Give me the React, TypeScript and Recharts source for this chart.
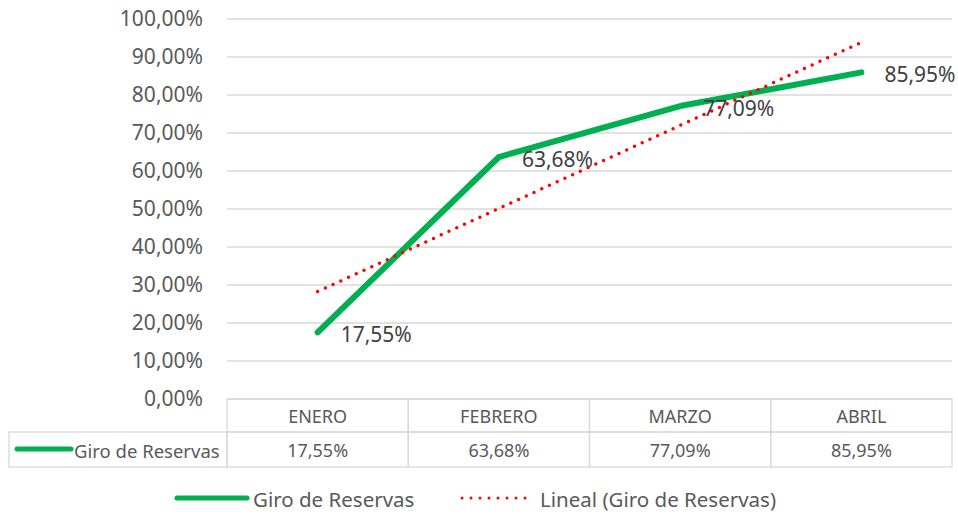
import React from 'react';
import { ComposedChart, Line, XAxis, YAxis, CartesianGrid, LabelList } from 'recharts';

const categories = ['ENERO', 'FEBRERO', 'MARZO', 'ABRIL'];
const giroReservas = [17.55, 63.68, 77.09, 85.95];
// linear trend
const lineal = [28.28, 50.14, 72.0, 93.86];
const yTicks = [0, 10, 20, 30, 40, 50, 60, 70, 80, 90, 100];

const W = 958;
const H = 514;
const PLOT_LEFT = 227;
const PLOT_RIGHT = 952;
const PLOT_BOTTOM = 399;
const ROW_SPLIT = 432;
const TABLE_BOTTOM = 467;
const FONT = '"Noto Sans", sans-serif';
const GREEN = '#00B050';
const RED = '#FF0000';
const GRID = '#D9D9D9';
const TEXT = '#595959';

const data = categories.map((c, i) => ({ name: c, giro: giroReservas[i], lineal: lineal[i] }));

const fmt = (v: number) => v.toFixed(2).replace('.', ',') + '%';

const TableTick = (props: any) => {
  const { x, payload, index } = props;
  const cw = (PLOT_RIGHT - PLOT_LEFT) / categories.length;
  const left = x - cw / 2;
  const value = giroReservas[index];
  return (
    <g>
      <rect x={left} y={PLOT_BOTTOM} width={cw} height={ROW_SPLIT - PLOT_BOTTOM} fill="none" stroke={GRID} strokeWidth={1.3} />
      <rect x={left} y={ROW_SPLIT} width={cw} height={TABLE_BOTTOM - ROW_SPLIT} fill="none" stroke={GRID} strokeWidth={1.3} />
      <text x={x} y={416} textAnchor="middle" dominantBaseline="central" fill={TEXT} fontSize={18} fontFamily={FONT}>
        {payload.value}
      </text>
      <text x={x} y={450} textAnchor="middle" dominantBaseline="central" fill={TEXT} fontSize={18} fontFamily={FONT}>
        {fmt(value)}
      </text>
      {index === 0 && (
        <g>
          <rect x={9} y={ROW_SPLIT} width={PLOT_LEFT - 9} height={TABLE_BOTTOM - ROW_SPLIT} fill="none" stroke={GRID} strokeWidth={1.3} />
          <line x1={17} y1={449} x2={71} y2={449} stroke={GREEN} strokeWidth={5} strokeLinecap="round" />
          <text x={74} y={450} dominantBaseline="central" fill={TEXT} fontSize={18.5} fontFamily={FONT}>
            Giro de Reservas
          </text>
        </g>
      )}
    </g>
  );
};

const PointLabel = (props: any) => {
  const { x, y, value } = props;
  return (
    <text x={x + 23} y={y + 2} dominantBaseline="central" fill="#404040" fontSize={21} fontFamily={FONT}>
      {fmt(value)}
    </text>
  );
};

export default function App() {
  return (
    <div style={{ position: 'absolute', left: 0, top: 0, width: W, height: H, background: '#fff' }}>
      <ComposedChart width={W} height={H} data={data} margin={{ top: 19, right: W - PLOT_RIGHT, left: 0, bottom: H - TABLE_BOTTOM }}>
        <CartesianGrid vertical={false} stroke={GRID} strokeWidth={1.3} />
        <XAxis
          dataKey="name"
          scale="band"
          height={TABLE_BOTTOM - PLOT_BOTTOM}
          axisLine={false}
          tickLine={false}
          tick={<TableTick />}
          interval={0}
        />
        <YAxis
          domain={[0, 100]}
          ticks={yTicks}
          width={PLOT_LEFT}
          axisLine={false}
          tickLine={false}
          tickSize={0}
          tickMargin={24}
          tickFormatter={fmt}
          tick={{ fill: TEXT, fontSize: 21, fontFamily: FONT }}
        />
        <Line
          dataKey="giro"
          stroke={GREEN}
          strokeWidth={6}
          strokeLinecap="round"
          strokeLinejoin="round"
          dot={false}
          isAnimationActive={false}
        >
          <LabelList dataKey="giro" content={<PointLabel />} />
        </Line>
        <Line
          dataKey="lineal"
          stroke={RED}
          strokeWidth={3.5}
          strokeDasharray="0 8.5"
          strokeLinecap="round"
          dot={false}
          isAnimationActive={false}
        />
      </ComposedChart>
      <div style={{ position: 'absolute', left: 0, top: 482, width: W, height: 32 }}>
        <svg width={W} height={32}>
          <line x1={177} y1={16} x2={247} y2={16} stroke={GREEN} strokeWidth={5} strokeLinecap="round" />
          <text x={253} y={17} dominantBaseline="central" fill={TEXT} fontSize={20.5} fontFamily={FONT}>
            Giro de Reservas
          </text>
          <line x1={462} y1={16} x2={534} y2={16} stroke={RED} strokeWidth={3} strokeDasharray="0 9" strokeLinecap="round" />
          <text x={540} y={17} dominantBaseline="central" fill={TEXT} fontSize={20.5} fontFamily={FONT}>
            Lineal (Giro de Reservas)
          </text>
        </svg>
      </div>
    </div>
  );
}
